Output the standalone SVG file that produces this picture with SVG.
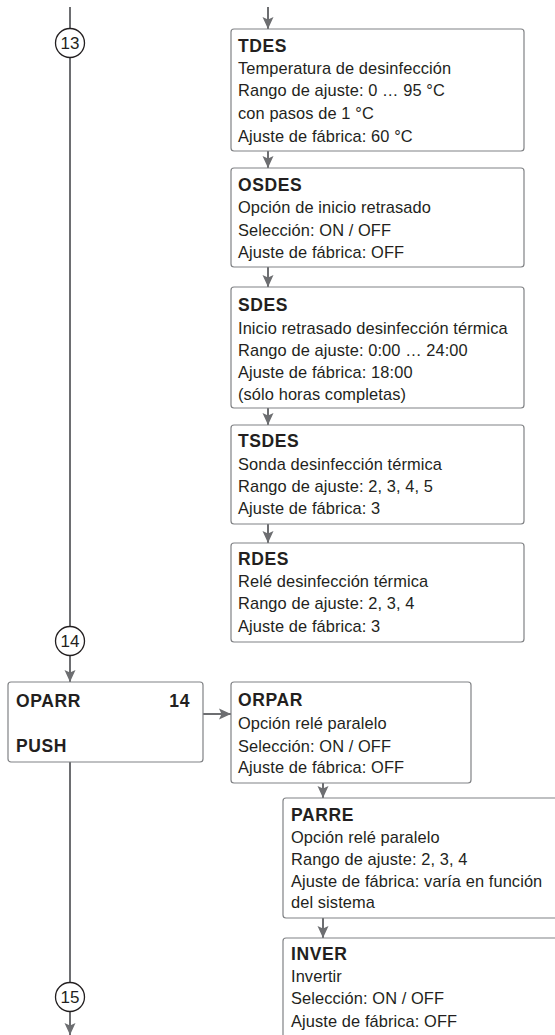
<svg xmlns="http://www.w3.org/2000/svg" width="555" height="1035" viewBox="0 0 555 1035">
<style>
.box{fill:#fff;stroke:#808285;stroke-width:1.2}
.con{fill:none;stroke:#6d6e71;stroke-width:2}
.ring{fill:#fff;stroke:#231f20;stroke-width:1.3}
.t{font-family:"Liberation Sans",Arial,sans-serif;font-size:16.4px;fill:#231f20;letter-spacing:0.1px}
.b{font-family:"Liberation Sans",Arial,sans-serif;font-size:17.5px;font-weight:bold;fill:#231f20;letter-spacing:0.6px}
.n{font-family:"Liberation Sans",Arial,sans-serif;font-size:17px;fill:#231f20;text-anchor:middle}
</style>
<defs>
<marker id="ah" viewBox="0 0 12 12" refX="12" refY="6" markerWidth="12" markerHeight="12" markerUnits="userSpaceOnUse" orient="auto">
<path d="M0,0.5 L12,6 L0,11.5 L2.5,6 z" fill="#6d6e71"/>
</marker>
</defs>
<g id="connectors">
<line class="con" x1="268" y1="7" x2="268" y2="29" marker-end="url(#ah)"/>
<line class="con" x1="268" y1="151" x2="268" y2="168" marker-end="url(#ah)"/>
<line class="con" x1="268" y1="267" x2="268" y2="287" marker-end="url(#ah)"/>
<line class="con" x1="268" y1="408" x2="268" y2="425" marker-end="url(#ah)"/>
<line class="con" x1="268" y1="524" x2="268" y2="543" marker-end="url(#ah)"/>
<line class="con" x1="70" y1="7" x2="70" y2="29"/>
<line class="con" x1="70" y1="57" x2="70" y2="627"/>
<line class="con" x1="70" y1="655" x2="70" y2="682" marker-end="url(#ah)"/>
<line class="con" x1="70" y1="762" x2="70" y2="983"/>
<line class="con" x1="70" y1="1011" x2="70" y2="1035" marker-end="url(#ah)"/>
<line class="con" x1="203" y1="714" x2="231" y2="714" marker-end="url(#ah)"/>
<line class="con" x1="323" y1="783" x2="323" y2="798" marker-end="url(#ah)"/>
<line class="con" x1="323" y1="918" x2="323" y2="938" marker-end="url(#ah)"/>
</g>
<g id="c13"><circle class="ring" cx="70" cy="43" r="14.5"/><text class="n" x="70" y="49">13</text></g>
<g id="c14"><circle class="ring" cx="70" cy="641" r="14.5"/><text class="n" x="70" y="647">14</text></g>
<g id="c15"><circle class="ring" cx="70" cy="997" r="14.5"/><text class="n" x="70" y="1003">15</text></g>
<g id="tdes">
<rect class="box" x="231" y="29" width="293" height="122" rx="3"/>
<text class="b" x="238" y="52">TDES</text>
<text class="t" x="238" y="74">Temperatura de desinfección</text>
<text class="t" x="238" y="96">Rango de ajuste: 0 … 95 °C</text>
<text class="t" x="238" y="119">con pasos de 1 °C</text>
<text class="t" x="238" y="142">Ajuste de fábrica: 60 °C</text>
</g>
<g id="osdes">
<rect class="box" x="231" y="168" width="293" height="99" rx="3"/>
<text class="b" x="238" y="191">OSDES</text>
<text class="t" x="238" y="213">Opción de inicio retrasado</text>
<text class="t" x="238" y="236">Selección: ON / OFF</text>
<text class="t" x="238" y="258">Ajuste de fábrica: OFF</text>
</g>
<g id="sdes">
<rect class="box" x="231" y="287" width="293" height="121" rx="3"/>
<text class="b" x="238" y="311">SDES</text>
<text class="t" x="238" y="334">Inicio retrasado desinfección térmica</text>
<text class="t" x="238" y="356">Rango de ajuste: 0:00 … 24:00</text>
<text class="t" x="238" y="378">Ajuste de fábrica: 18:00</text>
<text class="t" x="238" y="400">(sólo horas completas)</text>
</g>
<g id="tsdes">
<rect class="box" x="231" y="425" width="293" height="99" rx="3"/>
<text class="b" x="238" y="447">TSDES</text>
<text class="t" x="238" y="470">Sonda desinfección térmica</text>
<text class="t" x="238" y="492">Rango de ajuste: 2, 3, 4, 5</text>
<text class="t" x="238" y="514">Ajuste de fábrica: 3</text>
</g>
<g id="rdes">
<rect class="box" x="231" y="543" width="293" height="99" rx="3"/>
<text class="b" x="238" y="565">RDES</text>
<text class="t" x="238" y="587">Relé desinfección térmica</text>
<text class="t" x="238" y="609">Rango de ajuste: 2, 3, 4</text>
<text class="t" x="238" y="632">Ajuste de fábrica: 3</text>
</g>
<g id="oparr">
<rect class="box" x="8" y="682" width="195" height="80" rx="3"/>
<text class="b" x="16" y="707">OPARR</text>
<text class="b" x="190" y="707" text-anchor="end">14</text>
<text class="b" x="16" y="752">PUSH</text>
</g>
<g id="orpar">
<rect class="box" x="231" y="682" width="240" height="101" rx="3"/>
<text class="b" x="238" y="706">ORPAR</text>
<text class="t" x="238" y="729">Opción relé paralelo</text>
<text class="t" x="238" y="752">Selección: ON / OFF</text>
<text class="t" x="238" y="773">Ajuste de fábrica: OFF</text>
</g>
<g id="parre">
<path class="box" d="M556,798 H286 Q283,798 283,801 V915 Q283,918 286,918 H556"/>
<text class="b" x="291" y="821">PARRE</text>
<text class="t" x="291" y="843">Opción relé paralelo</text>
<text class="t" x="291" y="865">Rango de ajuste: 2, 3, 4</text>
<text class="t" x="291" y="887">Ajuste de fábrica: varía en función</text>
<text class="t" x="291" y="908">del sistema</text>
</g>
<g id="inver">
<path class="box" d="M556,938 H286 Q283,938 283,941 V1036"/>
<text class="b" x="291" y="960">INVER</text>
<text class="t" x="291" y="982">Invertir</text>
<text class="t" x="291" y="1004">Selección: ON / OFF</text>
<text class="t" x="291" y="1027">Ajuste de fábrica: OFF</text>
</g>
</svg>
